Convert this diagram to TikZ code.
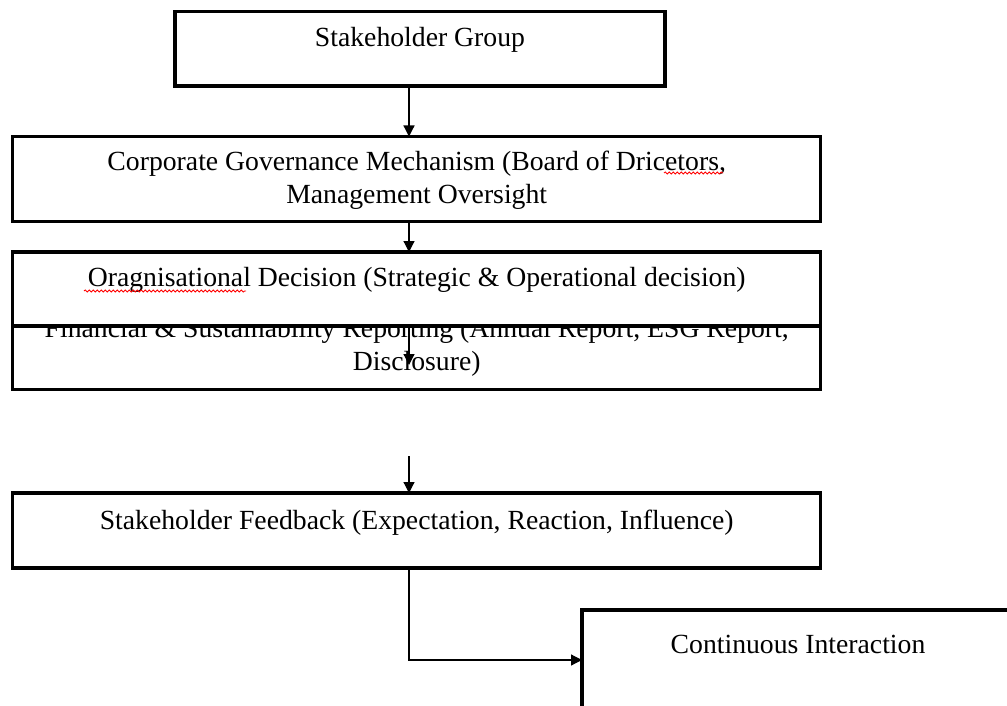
\documentclass[tikz,border=0pt]{standalone}
\usepackage{fontspec}
\setmainfont{Liberation Serif}
\usetikzlibrary{arrows.meta, positioning, decorations.pathmorphing}

\begin{document}
\begin{tikzpicture}[x=1pt, y=-1pt,
    stagebox/.style={rectangle, draw=black, fill=white, line width=3.4pt, inner sep=0pt, outer sep=0pt, align=center, font=\fontsize{27.7}{33}\selectfont},
    flow/.style={-{Triangle[length=11pt, width=11pt]}, line width=1.2pt},
    spell/.style={draw=red, line width=0.8pt, decorate, decoration={snake, amplitude=1.1pt, segment length=4pt}},
]
    \useasboundingbox (0,0) rectangle (1007,706);
    \clip (0,0) rectangle (1007,706);
    \coordinate (spine) at (409,0);

    \node[stagebox, minimum width=490pt, text height=35.5pt, text depth=39pt, anchor=north west] (group) at (175,11.5) {Stakeholder Group};
    \node[stagebox, minimum width=808pt, text height=67.5pt, text depth=17.5pt, anchor=north west] (govern) at (12.7,136.5) {Corporate Governance Mechanism (Board of Dricetors,\\ Management Oversight};
    % reporting box sits partly under the decision box
    \node[stagebox, minimum width=808pt, text height=65pt, text depth=19.5pt, anchor=north west] (report) at (12.7,305) {Financial \& Sustainability Reporting (Annual Report, ESG Report,\\ Disclosure)};
    \node[stagebox, minimum width=808pt, text height=34pt, text depth=40pt, below=30.5pt of govern] (decide) {Oragnisational Decision (Strategic \& Operational decision)};
    \node[stagebox, minimum width=808pt, text height=36pt, text depth=39pt, below=103.5pt of report] (feedback) {Stakeholder Feedback (Expectation, Reaction, Influence)};
    \node[stagebox, minimum width=432pt, text height=43pt, text depth=107pt, anchor=north west] (interact) at (582,610) {Continuous Interaction};

    \draw[spell] (664,173) -- (723,173);
    \draw[spell] (84,291) -- (246,291);

    \coordinate (reportend) at (409,365);
    \coordinate (feedstart) at (409,456);
    \coordinate (turn) at (409,660);
    \draw[flow] (group.south -| spine) -- (govern.north -| spine);
    \draw[flow] (govern.south -| spine) -- (decide.north -| spine);
    \draw[flow] (decide.south -| spine) -- (reportend);
    \draw[flow] (feedstart) -- (feedback.north -| spine);
    \draw[flow] (feedback.south -| spine) -- (turn) -- (turn -| interact.west);
\end{tikzpicture}
\end{document}
